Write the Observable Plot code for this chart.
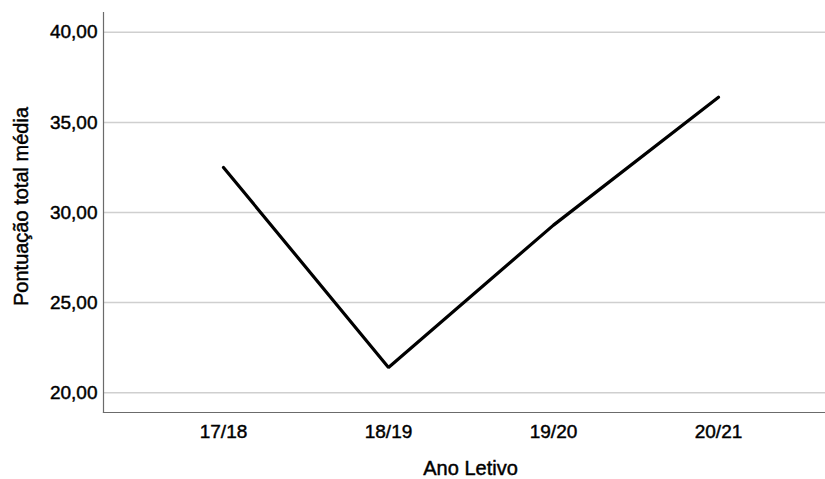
<!DOCTYPE html>
<html>
<head>
<meta charset="utf-8">
<script src="https://cdn.jsdelivr.net/npm/d3@7"></script>
<script src="https://cdn.jsdelivr.net/npm/@observablehq/plot@0.6"></script>
<style>
  html, body { margin: 0; padding: 0; background: #fff; }
  #chart svg { display: block; }
  #chart svg text { fill: #000; stroke: #000; stroke-width: 0.45px; }
</style>
</head>
<body>
<div id="chart"></div>
<script>
const anos = ["17/18", "18/19", "19/20", "20/21"];
const pontuacao = [32.5, 21.4, 29.3, 36.4];
const yTicks = [20, 25, 30, 35, 40];
const yTitle = "Pontuação total média";
const xTitle = "Ano Letivo";

const data = anos.map((a, i) => ({ano: a, valor: pontuacao[i]}));
const fmt = d => d.toFixed(2).replace(".", ",");
const font = "'Liberation Sans', Arial, sans-serif";

const chart = Plot.plot({
  width: 825,
  height: 479,
  marginLeft: 103,
  marginRight: 0,
  marginTop: 12,
  marginBottom: 67,
  style: {fontFamily: font, fontSize: "19px", color: "#000", background: "#fff"},
  x: {type: "point", domain: anos, padding: 0, insetLeft: 120, insetRight: 107},
  y: {domain: [18.9, 41.1]},
  marks: [
    Plot.ruleY(yTicks, {stroke: "#cfcfcf", strokeWidth: 1.5}),
    Plot.frame({anchor: "left", stroke: "#6b6b6b", strokeWidth: 1.2}),
    Plot.frame({anchor: "bottom", stroke: "#6b6b6b", strokeWidth: 1.2}),
    Plot.axisY(yTicks, {tickSize: 0, tickPadding: 6, tickFormat: fmt, label: null, fontSize: 19, fill: "#000"}),
    Plot.axisX(anos, {tickSize: 0, tickPadding: 12, label: null, fontSize: 19, fill: "#000"}),
    Plot.line(data, {x: "ano", y: "valor", stroke: "#000", strokeWidth: 3.2, strokeLinecap: "round", strokeLinejoin: "miter"}),
    Plot.text([yTitle], {frameAnchor: "left", textAnchor: "middle", dx: -82, dy: -6, rotate: -90, fontSize: 20, fill: "#000"}),
    Plot.text([xTitle], {frameAnchor: "bottom", dx: 6, dy: 62, fontSize: 20, fill: "#000"})
  ]
});
document.getElementById("chart").appendChild(chart);
</script>
</body>
</html>
